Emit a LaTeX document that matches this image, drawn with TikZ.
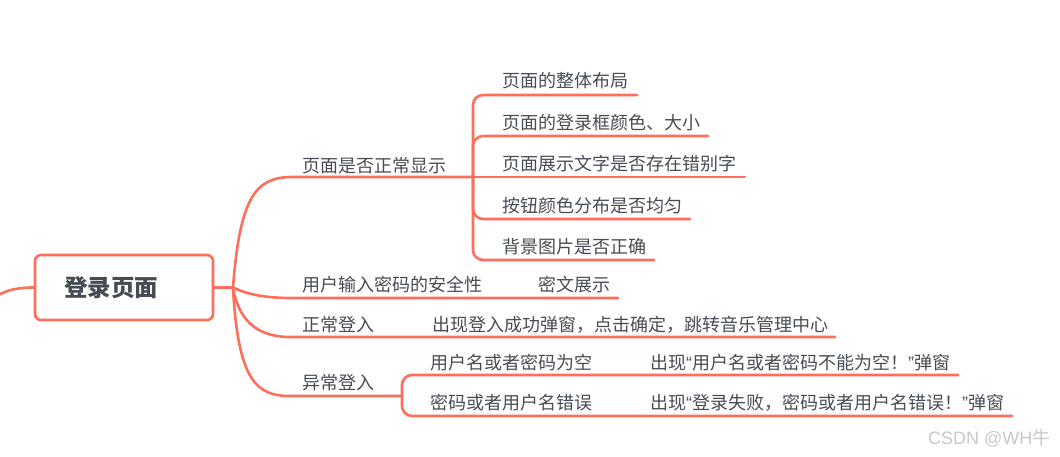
\documentclass[tikz,border=0pt]{standalone}
\usepackage{fontspec}
\setmainfont{Noto Sans CJK SC}
\newfontfamily\qf{Liberation Sans}
\definecolor{lc}{RGB}{255,110,90}
\definecolor{tc}{RGB}{70,76,84}
\definecolor{wmc}{RGB}{200,200,200}
\newcommand{\myLq}{{\qf “}}
\newcommand{\myRq}{{\qf ”}}
\begin{document}
\begin{tikzpicture}[x=1pt,y=-1pt,
  br/.style={draw=lc, line width=2.6pt, line cap=round},
  brk/.style={br, rounded corners=10pt},
  lbl/.style={anchor=west, inner sep=0pt, text=tc, font=\fontsize{18}{21}\selectfont},
  rootbox/.style={draw=lc, line width=2.6pt, rounded corners=6pt, minimum width=178pt,
    minimum height=65pt, inner sep=0pt, text=tc, font=\fontsize{23.5}{26}\selectfont\bfseries}]
\useasboundingbox (0,0) rectangle (1060,456);

% root
\node[rootbox] (root) at (124,287.5) {\makebox[178pt][l]{\hspace{29pt}登录页面}};
\coordinate (offl) at (-3,296);
\draw[br] (root.west) .. controls (15,287.5) and (5,291) .. (offl);
\coordinate (j0) at (233,287.5);
\draw[br] (root.east) -- (j0);

% branch 1
\coordinate (b1s) at (292,177);
\coordinate (b1e) at (473,177);
\node[lbl] (b1) at (302,166) {页面是否正常显示};
\draw[br] (j0) .. controls (240,198) and (255,177) .. (b1s) -- (b1e);
\node[lbl] (c11) at (502,81) {页面的整体布局};
\node[lbl] (c12) at (502,123) {页面的登录框颜色、大小};
\node[lbl] (c13) at (502,164) {页面展示文字是否存在错别字};
\node[lbl] (c14) at (502,206) {按钮颜色分布是否均匀};
\node[lbl] (c15) at (502,247) {背景图片是否正确};
\coordinate (c11e) at (637,95);
\coordinate (c12e) at (708,136);
\coordinate (c13e) at (745,177);
\coordinate (c14e) at (690,219);
\coordinate (c15e) at (654,260);
\draw[brk] (b1e) |- (c11e);
\draw[brk] (b1e) |- (c12e);
\draw[br] (b1e) -- (c13e);
\draw[brk] (b1e) |- (c14e);
\draw[brk] (b1e) |- (c15e);

% branch 2
\coordinate (b2s) at (292,298);
\coordinate (b2e) at (520,298);
\coordinate (c21e) at (618,298);
\node[lbl] (b2) at (302,285) {用户输入密码的安全性};
\node[lbl] (c21) at (538,285) {密文展示};
\draw[br] (j0) .. controls (245,293) and (260,298) .. (b2s) -- (b2e) -- (c21e);

% branch 3
\coordinate (b3s) at (290,337);
\coordinate (b3e) at (415,337);
\coordinate (c31e) at (835,337);
\node[lbl] (b3) at (302,325) {正常登入};
\node[lbl] (c31) at (432,325) {出现登入成功弹窗，点击确定，跳转音乐管理中心};
\draw[br] (j0) .. controls (238,318) and (255,337) .. (b3s) -- (b3e) -- (c31e);

% branch 4
\coordinate (b4s) at (290,396);
\coordinate (b4e) at (402,396);
\node[lbl] (b4) at (302,383) {异常登入};
\draw[br] (j0) .. controls (238,380) and (256,396) .. (b4s) -- (b4e);
\node[lbl] (c41) at (430,363) {用户名或者密码为空};
\node[lbl] (c42) at (430,403) {密码或者用户名错误};
\node[lbl] (d41) at (650,363) {出现\myLq 用户名或者密码不能为空！\myRq 弹窗};
\node[lbl] (d42) at (650,403) {出现\myLq 登录失败，密码或者用户名错误！\myRq 弹窗};
\coordinate (d41e) at (958,375);
\coordinate (d42e) at (1012,416);
\draw[brk] (b4e) |- (d41e);
\draw[brk] (b4e) |- (d42e);

% watermark
\node[anchor=west, inner sep=0pt, text=wmc, font=\fontsize{18}{21}\selectfont] (wm) at (928,438) {{\qf CSDN @WH}牛};
\end{tikzpicture}
\end{document}
